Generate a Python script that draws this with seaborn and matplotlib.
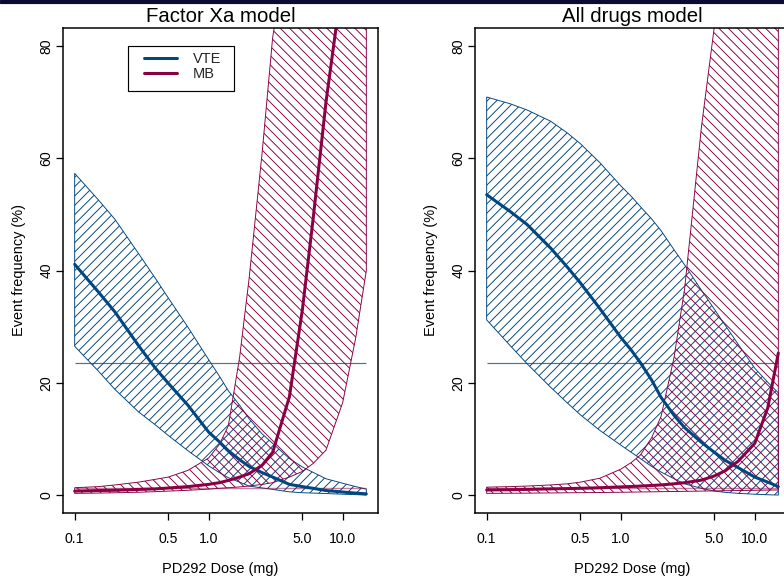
import numpy as np
import pandas as pd
import matplotlib
matplotlib.use("Agg")
import matplotlib.pyplot as plt
from matplotlib.patches import Rectangle
from matplotlib.lines import Line2D
from matplotlib.ticker import NullLocator, FixedLocator, FixedFormatter
import seaborn as sns

# ---------------- data ----------------
dose = [0.1, 0.15, 0.2, 0.3, 0.4, 0.5, 0.7, 1.0, 1.2, 1.4, 1.7, 2.0, 2.5, 3.0,
        4.0, 5.0, 6.0, 7.5, 10.0, 12.5, 15.0]

# Factor Xa model
xa_vte_mid = [41.1, 36.2, 32.6, 26.6, 22.6, 19.9, 16.0, 11.2, 9.5, 7.9, 6.3, 5.1, 4.0, 3.2,
              1.9, 1.5, 1.2, 0.8, 0.54, 0.35, 0.2]
xa_vte_hi = [57.3, 52.6, 49.1, 43.0, 38.6, 35.1, 29.9, 24.1, 21.2, 18.6, 16.0, 13.6, 10.9, 9.2,
             6.5, 5.0, 4.05, 2.9, 2.1, 1.5, 1.06]
xa_vte_lo = [26.5, 22.1, 18.8, 14.8, 12.5, 10.6, 7.9, 5.2, 4.0, 3.1, 2.3, 1.6, 1.27, 1.0,
             0.57, 0.41, 0.35, 0.27, 0.15, 0.07, 0.0]
xa_mb_mid = [0.7, 0.8, 0.85, 1.0, 1.1, 1.25, 1.5, 1.9, 2.2, 2.6, 3.2, 3.8, 5.3, 7.6,
             17.5, 33.0, 49.0, 70.0, 92.0, np.nan, np.nan]
xa_mb_hi = [1.3, 1.5, 1.8, 2.3, 2.8, 3.2, 4.4, 6.6, 9.0, 12.3, 24.5, 38.5, 60.8, 81.5,
            100.0, 100.0, 100.0, 100.0, 100.0, 100.0, 100.0]   # 100 = off scale
xa_mb_lo = [0.3, 0.35, 0.4, 0.5, 0.6, 0.7, 0.85, 1.05, 1.2, 1.3, 1.45, 1.6, 1.9, 2.2,
            3.2, 4.2, 5.6, 8.0, 16.5, 28.0, 40.0]

# All drugs model
all_vte_mid = [53.5, 50.5, 48.2, 44.0, 40.6, 37.8, 33.2, 28.1, 25.8, 23.6, 20.5, 17.4, 14.2, 12.0,
               9.4, 7.6, 6.2, 4.9, 3.2, 2.3, 1.5]
all_vte_hi = [70.9, 69.7, 68.6, 66.6, 64.5, 62.6, 59.2, 55.1, 53.2, 51.4, 49.2, 47.1, 43.7, 41.0,
              36.5, 33.1, 30.3, 26.9, 22.6, 20.1, 18.2]
all_vte_lo = [31.2, 26.6, 23.4, 19.2, 16.4, 14.3, 11.5, 8.9, 7.6, 6.5, 5.1, 4.1, 2.9, 2.0,
              1.2, 0.7, 0.48, 0.3, 0.15, 0.05, 0.0]
all_mb_mid = [0.9, 0.95, 1.0, 1.1, 1.15, 1.2, 1.3, 1.45, 1.52, 1.6, 1.7, 1.8, 2.0, 2.2,
              2.65, 3.4, 4.3, 6.0, 9.2, 15.5, 25.3]
all_mb_hi = [1.4, 1.5, 1.6, 1.8, 2.0, 2.3, 3.0, 4.6, 5.8, 7.1, 10.2, 14.0, 24.5, 36.8,
             65.5, 83.5, 100.0, 100.0, 100.0, 100.0, 100.0]    # 100 = off scale
all_mb_lo = [0.3, 0.32, 0.34, 0.37, 0.4, 0.42, 0.45, 0.5, 0.52, 0.55, 0.57, 0.6, 0.63, 0.66,
             0.7, 0.74, 0.77, 0.8, 0.85, 0.88, 0.9]

vte_ref = 23.5
mb_ref = 1.3

panel_titles = ["Factor Xa model", "All drugs model"]
series_names = ["VTE", "MB"]
x_ticks = [0.1, 0.5, 1.0, 5.0, 10.0]
x_tick_labels = ["0.1", "0.5", "1.0", "5.0", "10.0"]
y_ticks = [0, 20, 40, 60, 80]
x_label = "PD292 Dose (mg)"
y_label = "Event frequency (%)"

# ---------------- style ----------------
sns.set_theme(style="ticks")
plt.rcParams["font.family"] = ["Liberation Sans", "DejaVu Sans"]
plt.rcParams["hatch.linewidth"] = 0.8
plt.rcParams["axes.linewidth"] = 1.3

VTE_C = "#00467f"
MB_C = "#8b0044"

DPI = 84
W, H = 784, 581
fig = plt.figure(figsize=(W / DPI, H / DPI), dpi=DPI, facecolor="white")

# thin dark strip at the very top
fig.add_artist(Rectangle((0, 1 - 3 / H), 1, 3 / H, transform=fig.transFigure,
                         color="#0b0b30", zorder=10))

panels = [
    (xa_vte_lo, xa_vte_mid, xa_vte_hi, xa_mb_lo, xa_mb_mid, xa_mb_hi),
    (all_vte_lo, all_vte_mid, all_vte_hi, all_mb_lo, all_mb_mid, all_mb_hi),
]
lefts = [63, 475]
ax_w, ax_top, ax_bot = 315, 28, 513

lx0, lx1 = np.log10(min(dose)), np.log10(max(dose))
xpad = 0.04 * (lx1 - lx0)
xlim = (10 ** (lx0 - xpad), 10 ** (lx1 + xpad))
ylim = (-0.04 * 80, 80 + 0.04 * 80)

for i, (vlo, vmid, vhi, mlo, mmid, mhi) in enumerate(panels):
    ax = fig.add_axes([lefts[i] / W, 1 - ax_bot / H, ax_w / W, (ax_bot - ax_top) / H])
    ax.set_xscale("log")

    ax.fill_between(dose, vlo, vhi, facecolor="none", edgecolor=VTE_C,
                    hatch="///", linewidth=0.8)
    ax.fill_between(dose, mlo, mhi, facecolor="none", edgecolor=MB_C,
                    hatch="\\\\\\", linewidth=0.8)

    ax.hlines(vte_ref, min(dose), max(dose), color=VTE_C, alpha=0.75, linewidth=1.0)
    ax.hlines(mb_ref, min(dose), max(dose), color=MB_C, alpha=0.5, linewidth=1.2)

    n = len(dose)
    df = pd.DataFrame({
        "dose": dose * 2,
        "freq": list(vmid) + list(mmid),
        "outcome": [series_names[0]] * n + [series_names[1]] * n,
    }).dropna()
    sns.lineplot(data=df, x="dose", y="freq", hue="outcome",
                 palette={"VTE": VTE_C, "MB": MB_C}, linewidth=2.6,
                 estimator=None, legend=False, ax=ax)

    ax.set_xlim(*xlim)
    ax.set_ylim(*ylim)
    ax.xaxis.set_major_locator(FixedLocator(x_ticks))
    ax.xaxis.set_major_formatter(FixedFormatter(x_tick_labels))
    ax.xaxis.set_minor_locator(NullLocator())
    ax.set_yticks(y_ticks)
    ax.tick_params(axis="both", direction="out", length=6, width=1.1,
                   labelsize=12, color="black", labelcolor="black")
    ax.tick_params(axis="x", pad=10)
    ax.tick_params(axis="y", pad=2)
    for lab in ax.get_yticklabels():
        lab.set_rotation(90)
        lab.set_va("center")
    for sp in ax.spines.values():
        sp.set_color("black")
        sp.set_visible(True)

    ax.set_xlabel(x_label, fontsize=12.4, labelpad=14, color="black")
    ax.set_ylabel(y_label, fontsize=12.4, labelpad=12, color="black")
    ax.set_title(panel_titles[i], fontsize=17.5, pad=5, color="black")

    if i == 0:
        handles = [Line2D([], [], color=VTE_C, lw=2.6),
                   Line2D([], [], color=MB_C, lw=2.6)]
        ax.legend(handles, series_names, loc="upper left",
                  bbox_to_anchor=((144 - 63) / ax_w, (513 - 52) / 485),
                  frameon=False, fontsize=12.4, borderpad=0, borderaxespad=0,
                  handlelength=2.3, handletextpad=1.1, labelspacing=0.1)
        ax.add_patch(Rectangle(((127.7 - 63) / ax_w, (513 - 90.7) / 485),
                               (234.3 - 127.7) / ax_w, 45 / 485,
                               transform=ax.transAxes, fill=False,
                               edgecolor="black", linewidth=1.0, zorder=5))

fig.savefig("out.png", dpi=DPI, facecolor="white")
